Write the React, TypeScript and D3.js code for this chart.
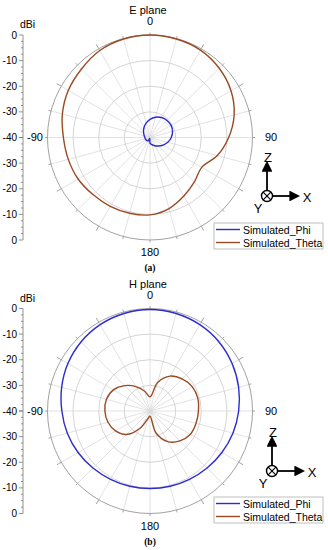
import React from 'react';
import * as d3 from 'd3';

// angle (deg, clockwise from top) shared by all four traces
const angles = [0, 15, 30, 45, 60, 75, 90, 105, 120, 135, 150, 165, 180, 195, 210, 225, 240, 255, 270, 285, 300, 315, 330, 345];

// E plane (dBi)
const ePhi = [-32.9, -31.8, -31.0, -30.6, -30.5, -30.9, -31.7, -32.8, -34.1, -35.3, -36.3, -37.1, -37.8, -39.6, -38.4, -38.3, -38.2, -38.1, -38.0, -37.7, -37.2, -36.4, -35.4, -34.2];
const eTheta = [0, -0.2, -0.6, -1.8, -3.5, -6.0, -9.3, -12.8, -16.7, -15.5, -13.6, -11.3, -9.8, -9.4, -9.0, -8.5, -7.6, -7.0, -6.2, -4.6, -3.2, -2.2, -0.8, -0.2];

// H plane (dBi)
const hPhi = [-0.4, -0.6, -1.1, -1.9, -3.0, -4.2, -5.4, -6.5, -7.6, -8.5, -9.2, -9.6, -9.75, -9.6, -9.2, -8.5, -7.6, -6.6, -5.6, -4.3, -3.0, -1.9, -1.1, -0.6];
const hTheta = [-34.5, -28.5, -24.3, -22.3, -21.0, -20.7, -21.1, -21.4, -21.8, -23.5, -26.2, -31.2, -38, -37, -32.2, -27, -24.5, -23, -22.4, -22.4, -23.5, -26, -29, -32];

const ringTicks = [0, -10, -20, -30, -40];
const axisLabels = ['0', '-10', '-20', '-30', '-40'];
const seriesNames = ['Simulated_Phi', 'Simulated_Theta'];
const seriesColors = ['#2b2bd0', '#9a4a22'];

const FONT = '"Liberation Sans", Arial, sans-serif';
const R = 102.5;
const CX = 150;

type PanelProps = {
  cy: number;
  title: string;
  caption: string;
  phi: number[];
  theta: number[];
  iconX: number;
  iconY: number;
  legendY: number;
};

function PolarPanel({ cy, title, caption, phi, theta, iconX, iconY, legendY }: PanelProps) {
  const r = d3.scaleLinear().domain([-40, 0]).range([0, R]);
  const yUp = d3.scaleLinear().domain([-40, 0]).range([cy, cy - R]);
  const yDown = d3.scaleLinear().domain([-40, 0]).range([cy, cy + R]);

  const line = d3.lineRadial<[number, number]>()
    .angle(d => (d[0] * Math.PI) / 180)
    .radius(d => r(d[1]))
    .curve(d3.curveCatmullRomClosed.alpha(0.5));

  const spokes = d3.range(0, 360, 15);
  const minorAxis = d3.range(-40, 0.1, 2.5);

  return (
    <g>
      <text x={CX - 2} y={cy - R - 21} textAnchor="middle" fontSize={11} fontFamily={FONT}>{title}</text>
      <text x={CX} y={cy - R - 10} textAnchor="middle" fontSize={11} fontFamily={FONT}>0</text>

      <g transform={`translate(${CX},${cy})`}>
        {spokes.map(a => {
          const rad = (a * Math.PI) / 180;
          const s = Math.sin(rad), c = -Math.cos(rad);
          const major = a % 30 === 0 && a % 90 !== 0;
          return (
            <g key={a}>
              <line x1={0} y1={0} x2={s * R} y2={c * R} stroke="#dadada" strokeWidth={0.8} />
              <line x1={s * R} y1={c * R} x2={s * (R + (major ? 5 : 2.5))} y2={c * (R + (major ? 5 : 2.5))}
                stroke="#8a8a8a" strokeWidth={0.8} />
            </g>
          );
        })}
        {ringTicks.slice(1, 4).map(t => (
          <circle key={t} r={r(t)} fill="none" stroke="#cfcfcf" strokeWidth={0.9} />
        ))}
        <circle r={R} fill="none" stroke="#a2a2a2" strokeWidth={1} />

        <path d={line(angles.map((a, i) => [a, theta[i]]) as [number, number][]) || ''}
          fill="none" stroke={seriesColors[1]} strokeWidth={1.4} />
        <path d={line(angles.map((a, i) => [a, phi[i]]) as [number, number][]) || ''}
          fill="none" stroke={seriesColors[0]} strokeWidth={1.4} />
      </g>

      <text x={43} y={cy + 3.5} textAnchor="end" fontSize={11} fontFamily={FONT}>-90</text>
      <text x={265} y={cy + 3.5} fontSize={11} fontFamily={FONT}>90</text>
      <text x={CX} y={cy + R + 16} textAnchor="middle" fontSize={11} fontFamily={FONT}>180</text>
      <text x={CX} y={cy + R + 31} textAnchor="middle" fontSize={9.5} fontWeight="bold" fontFamily="'Liberation Serif', 'Times New Roman', serif">{caption}</text>

      {/* radial scale drawn as a vertical axis on the left */}
      <text x={20} y={cy - R - 7} fontSize={10.5} fontFamily={FONT}>dBi</text>
      <line x1={23} x2={23} y1={yUp(0)} y2={yDown(0)} stroke="#777" strokeWidth={0.8} />
      {minorAxis.map(v => (
        <g key={v}>
          <line x1={23} x2={v % 10 === 0 ? 19 : 21} y1={yUp(v)} y2={yUp(v)} stroke="#777" strokeWidth={0.8} />
          <line x1={23} x2={v % 10 === 0 ? 19 : 21} y1={yDown(v)} y2={yDown(v)} stroke="#777" strokeWidth={0.8} />
        </g>
      ))}
      {ringTicks.map((t, i) => (
        <g key={t}>
          <text x={17} y={yUp(t) + 3.5} textAnchor="end" fontSize={10} fontFamily={FONT}>{axisLabels[i]}</text>
          {t !== -40 && (
            <text x={17} y={yDown(t) + 3.5} textAnchor="end" fontSize={10} fontFamily={FONT}>{axisLabels[i]}</text>
          )}
        </g>
      ))}

      {/* coordinate icon */}
      <defs>
        <marker id={`ah${cy}`} viewBox="0 0 10 10" refX={8} refY={5} markerWidth={6} markerHeight={6} orient="auto">
          <path d="M0,0 L10,5 L0,10 z" fill="#000" />
        </marker>
      </defs>
      <line x1={iconX} y1={iconY - 6} x2={iconX} y2={iconY - 33} stroke="#000" strokeWidth={1.8} markerEnd={`url(#ah${cy})`} />
      <line x1={iconX + 6} y1={iconY} x2={iconX + 31} y2={iconY} stroke="#000" strokeWidth={1.8} markerEnd={`url(#ah${cy})`} />
      <circle cx={iconX} cy={iconY} r={5.5} fill="#fff" stroke="#000" strokeWidth={1.4} />
      <line x1={iconX - 3.8} y1={iconY - 3.8} x2={iconX + 3.8} y2={iconY + 3.8} stroke="#000" strokeWidth={1.2} />
      <line x1={iconX - 3.8} y1={iconY + 3.8} x2={iconX + 3.8} y2={iconY - 3.8} stroke="#000" strokeWidth={1.2} />
      <text x={iconX + 1} y={iconY - 34} textAnchor="middle" fontSize={13} fontFamily={FONT}>Z</text>
      <text x={iconX + 40} y={iconY + 6} textAnchor="middle" fontSize={13} fontFamily={FONT}>X</text>
      <text x={iconX - 9} y={iconY + 17} textAnchor="middle" fontSize={13} fontFamily={FONT}>Y</text>

      {/* legend */}
      <rect x={214} y={legendY} width={109} height={26} fill="#fff" stroke="#b0b0b0" strokeWidth={0.8} />
      {seriesNames.map((n, i) => (
        <g key={n}>
          <line x1={216} x2={240} y1={legendY + 6.5 + i * 13} y2={legendY + 6.5 + i * 13} stroke={seriesColors[i]} strokeWidth={1.4} />
          <text x={243} y={legendY + 10.5 + i * 13} fontSize={10.5} fontFamily={FONT}>{n}</text>
        </g>
      ))}
    </g>
  );
}

export default function App() {
  return (
    <div style={{ position: 'absolute', left: 0, top: 0 }}>
      <svg width={328} height={550} style={{ display: 'block', background: '#fff' }}>
        <PolarPanel cy={137.5} title="E plane" caption="(a)" phi={ePhi} theta={eTheta} iconX={267} iconY={196} legendY={223} />
        <PolarPanel cy={411} title="H plane" caption="(b)" phi={hPhi} theta={hTheta} iconX={272} iconY={471} legendY={497} />
      </svg>
    </div>
  );
}
